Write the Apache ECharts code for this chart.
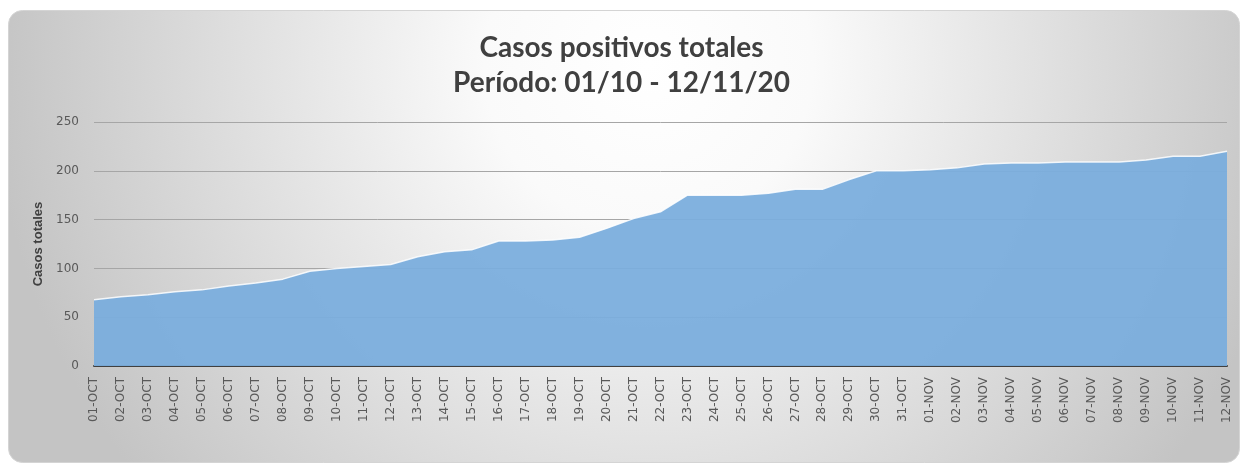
<!DOCTYPE html>
<html>
<head>
<meta charset="utf-8">
<script src="https://cdn.jsdelivr.net/npm/echarts@6/dist/echarts.min.js"></script>
<style>
html,body{margin:0;padding:0;background:#ffffff;}
#chart{width:1243px;height:466px;}
</style>
</head>
<body>
<div id="chart"></div>
<script>
const categories = ['01-OCT','02-OCT','03-OCT','04-OCT','05-OCT','06-OCT','07-OCT','08-OCT','09-OCT','10-OCT',
  '11-OCT','12-OCT','13-OCT','14-OCT','15-OCT','16-OCT','17-OCT','18-OCT','19-OCT','20-OCT',
  '21-OCT','22-OCT','23-OCT','24-OCT','25-OCT','26-OCT','27-OCT','28-OCT','29-OCT','30-OCT','31-OCT',
  '01-NOV','02-NOV','03-NOV','04-NOV','05-NOV','06-NOV','07-NOV','08-NOV','09-NOV','10-NOV','11-NOV','12-NOV'];
const casosTotales = [68, 71, 73, 76, 78, 82, 85, 89, 97, 100,
  102, 104, 112, 117, 119, 128, 128, 129, 132, 141,
  151, 158, 175, 175, 175, 177, 181, 181, 191, 200, 200,
  201, 203, 207, 208, 208, 209, 209, 209, 211, 215, 215, 220];
const titleLines = ['Casos positivos totales', 'Período: 01/10 - 12/11/20'];
const yAxisName = 'Casos totales';

const chart = echarts.init(document.getElementById('chart'), null, {renderer: 'canvas'});
chart.setOption({
  animation: false,
  backgroundColor: '#ffffff',
  graphic: [{
    type: 'rect',
    z: -10,
    silent: true,
    shape: {x: 8.5, y: 10.5, width: 1231, height: 452, r: 14},
    style: {
      fill: {
        type: 'radial', x: 0.52, y: 0.12, r: 1.45,
        colorStops: [
          {offset: 0, color: '#ffffff'},
          {offset: 0.25, color: '#fafafa'},
          {offset: 1, color: '#c4c4c4'}
        ]
      },
      stroke: '#d4d4d4',
      lineWidth: 1
    }
  }],
  title: {
    text: titleLines.join('\n'),
    left: 'center',
    top: 25,
    textStyle: {
      fontFamily: 'Lato',
      fontWeight: 'bold',
      fontSize: 28,
      lineHeight: 35,
      color: '#404040'
    }
  },
  grid: {left: 94, right: 16, top: 122, bottom: 100, containLabel: false},
  xAxis: {
    type: 'category',
    data: categories,
    boundaryGap: false,
    axisLine: {lineStyle: {color: '#404040', width: 2}},
    axisTick: {show: false},
    axisLabel: {
      rotate: 90,
      interval: 0,
      margin: 11,
      fontFamily: 'DejaVu Sans',
      fontSize: 12,
      color: '#595959'
    },
    splitLine: {show: false}
  },
  yAxis: {
    type: 'value',
    min: 0,
    max: 250,
    interval: 50,
    name: yAxisName,
    nameLocation: 'middle',
    nameGap: 48,
    nameRotate: 90,
    nameTextStyle: {
      fontFamily: 'Liberation Sans',
      fontWeight: 'bold',
      fontSize: 13,
      color: '#404040'
    },
    axisLine: {show: false},
    axisTick: {show: false},
    axisLabel: {
      margin: 15,
      fontFamily: 'DejaVu Sans',
      fontSize: 12,
      color: '#595959'
    },
    splitLine: {lineStyle: {color: '#a6a6a6', width: 1}}
  },
  series: [{
    type: 'line',
    data: casosTotales,
    symbol: 'none',
    lineStyle: {color: 'rgba(255,255,255,0.85)', width: 1.5},
    areaStyle: {color: 'rgb(122,173,221)', opacity: 0.94},
    z: 2
  }]
});
</script>
</body>
</html>
